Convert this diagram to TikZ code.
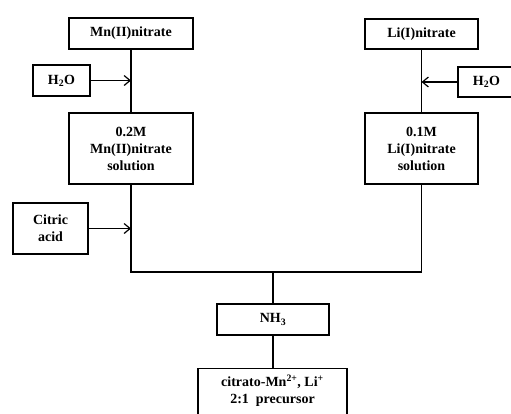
\documentclass[tikz,border=0pt]{standalone}
\usepackage{fontspec}
\setmainfont{Liberation Serif}
\usetikzlibrary{arrows.meta}
\begin{document}
\begin{tikzpicture}[x=1pt,y=-1pt,
  txt/.style={align=center, inner sep=0pt,
    font=\fontsize{14}{17}\selectfont\bfseries},
  box/.style={txt, draw, line width=1.2pt},
  ln/.style={line width=1.2pt},
  arr/.style={ln, -{Straight Barb[length=6pt,width=10pt,line width=1.2pt]}}]
\useasboundingbox (0,0) rectangle (511,413);
\clip (0,0) rectangle (511,413);
\fill[white] (0,0) rectangle (511,413);
% left column
\node[box, minimum width=124pt, minimum height=31pt] (mn) at (131,33.5) {Mn(II)nitrate};
\node[box, minimum width=57pt, minimum height=31pt] (h2oL) at (61.5,80.5) {H\textsubscript{2}O};
\node[box, minimum width=124pt, minimum height=71pt] (sol1) at (131,148.5) {0.2M\\Mn(II)nitrate\\solution};
\node[box, minimum width=75pt, minimum height=51pt] (cit) at (50.5,228.5) {Citric\\acid};
% right column
\node[box, minimum width=113pt, minimum height=30pt] (li) at (421.5,34) {Li(I)nitrate};
\node[box, minimum width=57pt, minimum height=30pt] (h2oR) at (486.5,82) {H\textsubscript{2}O};
\node[box, minimum width=113pt, minimum height=71pt] (sol2) at (421.5,148.5) {0.1M\\Li(I)nitrate\\solution};
% bottom
\node[box, minimum width=112pt, minimum height=31pt] (nh3) at (273,319.5) {NH\textsubscript{3}};
\node[box, minimum width=149pt, minimum height=54pt, anchor=north] (prod) at (272.5,368) {};
\node[txt] (prodtext) at (272.5,390.5) {citrato-Mn\textsuperscript{2+}, Li\textsuperscript{+}\\2:1\ \ precursor};
\coordinate (j1) at (131,272);
\coordinate (j2) at (421.5,272);
% connectors
\draw[ln] (mn) -- (sol1);
\draw[ln] (li) -- (sol2);
\draw[arr] (h2oL.east) -- (h2oL.east -| mn);
\draw[arr] (h2oR.west) -- (h2oR.west -| li);
\draw[arr] (cit.east) -- (cit.east -| sol1);
\draw[ln] (sol1.south) -- (j1) -- (j2) -- (sol2.south);
\draw[ln] (nh3.north |- j1) -- (nh3.north);
\draw[ln] (nh3.south) -- (nh3.south |- prod.north);
\end{tikzpicture}
\end{document}
